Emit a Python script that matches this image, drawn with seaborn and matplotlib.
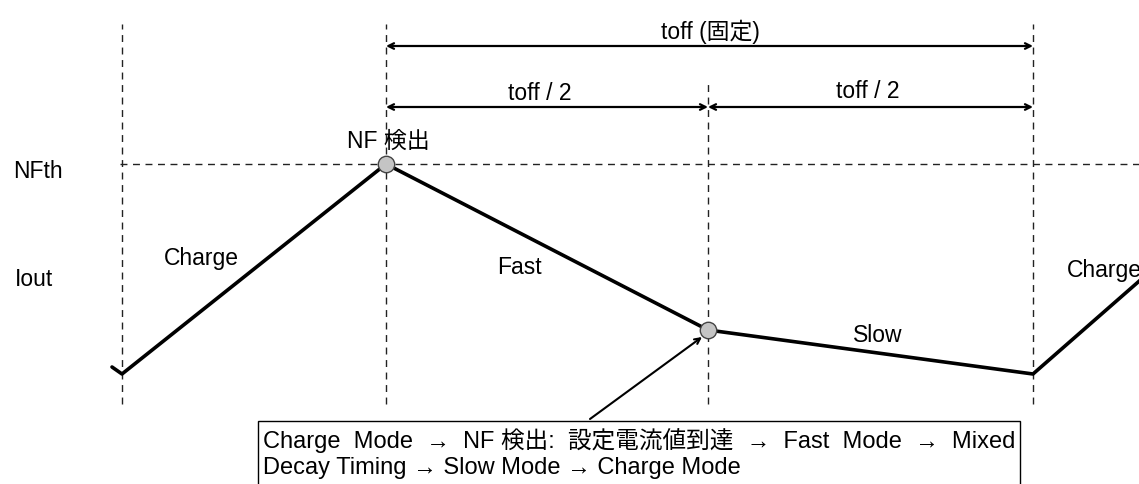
import matplotlib
matplotlib.use("Agg")
import matplotlib.pyplot as plt
import seaborn as sns
import pandas as pd
from matplotlib.patches import Rectangle

# Waveform of Iout (time in arbitrary units, current in arbitrary units)
t_wave = [112, 122, 386, 708, 1033, 1145]
i_wave = [117, 110, 320, 154, 110, 208]

# Timing markers
t_marks = [122, 386, 708, 1033]
nf_th = 320

# Detected points (NF detect / mixed decay timing)
t_dots = [386, 708]
i_dots = [320, 154]

segment_labels = ["Charge", "Fast", "Slow", "Charge"]

sns.set_style("white")
plt.rcParams["font.family"] = ["Liberation Sans", "Noto Sans CJK JP", "DejaVu Sans"]
plt.rcParams["text.color"] = "black"

fig = plt.figure(figsize=(11.39, 4.85), dpi=100)
ax = fig.add_axes([0, 0, 1, 1])
ax.set_xlim(0, 1139)
ax.set_ylim(0, 485)
ax.axis("off")

df = pd.DataFrame({"t": t_wave, "i": i_wave})
sns.lineplot(data=df, x="t", y="i", color="black", lw=2.6, sort=False, ax=ax, zorder=3)

# dashed guide lines
dash = dict(color="#222222", lw=1.0, ls=(0, (5, 4)))
ax.plot([t_marks[0], t_marks[0]], [80, 460], **dash)
ax.plot([t_marks[1], t_marks[1]], [80, 460], **dash)
ax.plot([t_marks[2], t_marks[2]], [80, 400], **dash)
ax.plot([t_marks[3], t_marks[3]], [80, 460], **dash)
ax.plot([120, 1139], [nf_th, nf_th], **dash)

sns.scatterplot(x=t_dots, y=i_dots, s=140, color="#c4c4c4", edgecolor="#444444",
                linewidth=1.0, ax=ax, zorder=5)

# timing arrows
arr = dict(arrowstyle="<->", color="black", lw=1.6, shrinkA=0, shrinkB=0)
ax.annotate("", xy=(t_marks[1], 438), xytext=(t_marks[3], 438), arrowprops=arr)
ax.annotate("", xy=(t_marks[1], 377), xytext=(t_marks[2], 377), arrowprops=arr)
ax.annotate("", xy=(t_marks[2], 377), xytext=(t_marks[3], 377), arrowprops=arr)

fs = 16.5
ax.text(710, 453, "toff (固定)", fontsize=fs, ha="center", va="center")
ax.text(540, 391, "toff / 2", fontsize=fs, ha="center", va="center")
ax.text(868, 394, "toff / 2", fontsize=fs, ha="center", va="center")
ax.text(388, 344, "NF 検出", fontsize=fs, ha="center", va="center")

ax.text(13, 314, "NFth", fontsize=fs, ha="left", va="center")
ax.text(15, 205, "Iout", fontsize=fs, ha="left", va="center")
ax.text(201, 227, segment_labels[0], fontsize=fs, ha="center", va="center")
ax.text(519, 217, segment_labels[1], fontsize=fs, ha="center", va="center")
ax.text(878, 150, segment_labels[2], fontsize=fs, ha="center", va="center")
ax.text(1067, 215, segment_labels[3], fontsize=fs, ha="left", va="center")

# explanation box with pointer
ax.annotate("", xy=(702, 147), xytext=(590, 65),
            arrowprops=dict(arrowstyle="->", color="black", lw=1.5, shrinkA=0, shrinkB=0))
ax.add_patch(Rectangle((258, -5), 762, 68, facecolor="white", edgecolor="black",
                       lw=1.0, zorder=6))
ax.text(263, 44, "Charge  Mode  \u2192  NF 検出:  設定電流値到達  \u2192  Fast  Mode  \u2192  Mixed",
        fontsize=17, ha="left", va="center", zorder=7)
ax.text(263, 17, "Decay Timing \u2192 Slow Mode \u2192 Charge Mode",
        fontsize=17, ha="left", va="center", zorder=7)

fig.savefig("out.png", dpi=100)
